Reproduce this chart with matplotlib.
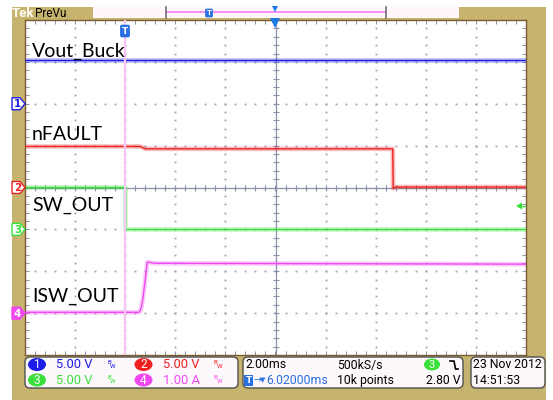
import matplotlib
matplotlib.use('Agg')
import matplotlib.pyplot as plt
from matplotlib.patches import Rectangle, FancyBboxPatch, Polygon, Ellipse
import numpy as np

W, H = 553, 400

# ---------------- data (time in ms, values in V / A) ----------------
time_vout = [-4.0, 16.0]
vout_buck = [5.2, 5.2]

time_nfault = [-4.0, 0.6, 0.8, 10.68, 10.70, 10.78, 16.0]
nfault = [4.9, 4.9, 4.62, 4.62, -0.1, 0.05, 0.05]

time_sw = [-4.0, 0.0, 0.0, 16.0]
sw_out = [5.05, 5.05, 0.0, 0.0]

time_isw = [-4.0, 0.56, 0.64, 0.72, 0.80, 0.88, 1.2, 16.0]
isw_out = [0.02, 0.02, 0.12, 0.40, 0.80, 1.22, 1.19, 1.17]

trace_labels = ['Vout_Buck', 'nFAULT', 'SW_OUT', 'ISW_OUT']
ch_scale = [5.0, 5.0, 5.0, 1.0]          # units per division
ch_offset = [6, 4, 3, 1]                 # ground position in divisions
ch_colors = ['#1C1CE8', '#EE2020', '#3AE03A', '#F048F0']

panel_scale_text = ['5.00 V', '5.00 V', '5.00 V', '1.00 A']
timebase = '2.00ms'
sample_rate = '500kS/s'
trig_pos = '6.02000ms'
record_len = '10k points'
trig_level = '2.80 V'
date_str = '23 Nov 2012'
time_str = '14:51:53'

tan = '#C6B46E'
grid_col = '#9CA0B4'
cross_col = '#8A90A8'
t0, t1 = -4.0, 16.0

fig = plt.figure(figsize=(W / 100, H / 100), dpi=100)
fig.patch.set_facecolor('white')

# background pixel axes
bg = fig.add_axes([0, 0, 1, 1], zorder=0)
bg.set_xlim(0, W); bg.set_ylim(H, 0); bg.axis('off')
bg.add_patch(Rectangle((12, 7), 534, 393, color=tan, lw=0))

# main scope axes
ax = fig.add_axes([25 / W, 1 - 355 / H, 501 / W, 335 / H], zorder=1)
ax.set_xlim(t0, t1)
ax.set_ylim(0, 8)
ax.set_facecolor('white')
for s in ax.spines.values():
    s.set_color('#7A5A32'); s.set_linewidth(1.0)
ax.set_xticks(np.arange(t0, t1 + 0.01, 0.4))
ax.set_yticks(np.arange(0, 8.01, 0.2))
ax.tick_params(direction='in', length=3, width=0.7, color=cross_col,
               top=True, right=True, labelbottom=False, labelleft=False)

tc = (t0 + t1) / 2
# graticule dots
for gx in np.arange(t0 + 2, t1, 2.0):
    if abs(gx - tc) < 1e-6:
        continue
    ys = np.arange(0.2, 8, 0.2)
    ax.plot(np.full_like(ys, gx), ys, ls='none', marker='s', ms=1.3, mew=0, color=grid_col, zorder=1)
for gy in range(1, 8):
    if gy == 4:
        continue
    xs = np.arange(t0 + 0.4, t1, 0.4)
    ax.plot(xs, np.full_like(xs, gy), ls='none', marker='s', ms=1.3, mew=0, color=grid_col, zorder=1)
# centre cross-hair
ax.axvline(tc, color=cross_col, lw=0.9, zorder=1)
ax.axhline(4, color=cross_col, lw=0.9, zorder=1)
ys = np.arange(0.2, 8, 0.2)
ax.plot(np.full_like(ys, tc), ys, ls='none', marker='_', ms=4, mew=0.8, color=cross_col, zorder=1)
xs = np.arange(t0 + 0.4, t1, 0.4)
ax.plot(xs, np.full_like(xs, 4), ls='none', marker='|', ms=4, mew=0.8, color=cross_col, zorder=1)

# traces
series = [(time_vout, vout_buck), (time_nfault, nfault), (time_sw, sw_out), (time_isw, isw_out)]
for i, (t, v) in enumerate(series):
    y = ch_offset[i] + np.asarray(v) / ch_scale[i]
    ax.plot(t, y, color=ch_colors[i], lw=3.4, alpha=0.28, zorder=2)
    ax.plot(t, y, color=ch_colors[i], lw=1.0, zorder=3)

# trigger position line
ax.axvline(0, color='#F6C6F4', lw=1.6, zorder=3.5)

# trace labels
label_y = [7.12, 5.13, 3.44, 1.27]
for lab, ly in zip(trace_labels, label_y):
    ax.text(t0 + 0.28, ly, lab, fontsize=14, family='Lato', color='black', va='baseline', ha='left', zorder=4)

# foreground pixel axes
fg = fig.add_axes([0, 0, 1, 1], zorder=2)
fg.set_xlim(0, W); fg.set_ylim(H, 0); fg.axis('off')
fg.patch.set_alpha(0)

# top bar
fg.text(12, 13.5, 'Tek', fontsize=9.5, fontweight='bold', color='#FFFDF2', va='center', ha='left', family='Roboto')
fg.text(35, 13.5, 'PreVu', fontsize=8.5, color='black', va='center', ha='left', family='Roboto')
fg.add_patch(Rectangle((93, 7), 366, 10.5, fc='#FFF7FC', ec='none'))
fg.plot([166, 386], [12.3, 12.3], color='#F080F0', lw=1.2)
fg.plot([166, 166], [7, 17.5], color='#707070', lw=1.2)
fg.plot([386, 386], [7, 17.5], color='#707070', lw=1.2)
fg.text(209, 13, 'T', fontsize=5, fontweight='bold', color='white', ha='center', va='center',
        bbox=dict(boxstyle='round,pad=0.2', fc='#2A70E0', ec='none'))
fg.plot([275], [8.5], marker='v', ms=5, color='#1E78E6', mew=0)

# trigger markers on the graticule
fg.text(125, 31, 'T', fontsize=6.5, fontweight='bold', color='white', ha='center', va='center',
        bbox=dict(boxstyle='round,pad=0.2', fc='#2A70E0', ec='none'))
fg.plot([275], [22.5], marker='v', ms=7, color='#1E78E6', mew=0)
fg.add_patch(Polygon([[516, 206], [522, 202.5], [522, 209.5]], closed=True, fc=ch_colors[2], ec='none'))
fg.plot([521, 525], [206, 206], color=ch_colors[2], lw=1)

# channel ground markers
for i in range(4):
    yy = 355 - ch_offset[i] * 335 / 8
    pts = [[12, yy - 6], [20, yy - 6], [25, yy], [20, yy + 6], [12, yy + 6]]
    filled = (i == 3)
    fg.add_patch(Polygon(pts, closed=True, fc=ch_colors[i] if filled else 'white',
                         ec=ch_colors[i], lw=1.0))
    fg.text(17.5, yy + 0.5, str(i + 1), fontsize=7.5, fontweight='bold',
            color='white' if filled else ch_colors[i], ha='center', va='center', family='DejaVu Sans')

# bottom panel
def box(x0, x1):
    fg.add_patch(FancyBboxPatch((x0, 357), x1 - x0, 31,
                                boxstyle='round,pad=0,rounding_size=5',
                                fc='#FDF8FC', ec='#505050', lw=1.0))

box(25, 238)
box(243, 463)
box(471, 545)

pf = ['Roboto', 'DejaVu Sans']
fs = 8.8
row_y = [364.5, 380]
chan_pos = [(37, 56, 107, row_y[0]), (143.5, 163, 214, row_y[0]),
            (37, 56, 107, row_y[1]), (143.5, 163, 214, row_y[1])]
for i in range(4):
    cx, tx, bx, ry = chan_pos[i]
    fg.add_patch(Ellipse((cx, ry), 18, 13, fc=ch_colors[i], ec='none'))
    fg.text(cx, ry + 0.5, str(i + 1), fontsize=8.5, color='white', ha='center', va='center', family=pf)
    fg.text(tx, ry + 0.5, panel_scale_text[i], fontsize=9.3, color=ch_colors[i], ha='left', va='center', family=pf)
    fg.text(bx, ry - 2.5, 'B', fontsize=4.5, color=ch_colors[i], ha='left', va='center', family=pf)
    fg.text(bx + 2.5, ry + 1.5, 'W', fontsize=4.5, color=ch_colors[i], ha='left', va='center', family=pf)

fg.text(246, row_y[0] + 0.5, timebase, fontsize=fs, color='black', ha='left', va='center', family=pf)
fg.text(337, row_y[0] + 0.5, sample_rate, fontsize=fs, color='black', ha='left', va='center', family=pf)
fg.add_patch(Ellipse((432, row_y[0]), 16, 12, fc=ch_colors[2], ec='none'))
fg.text(432, row_y[0] + 0.5, '3', fontsize=8, color='white', ha='center', va='center', family=pf)
fg.plot([450, 454, 455.5, 458], [361, 361, 369, 369], color='black', lw=1.2)

fg.text(248.5, row_y[1] + 0.5, 'T', fontsize=6.5, fontweight='bold', color='white', ha='center', va='center',
        bbox=dict(boxstyle='square,pad=0.15', fc='#2A70E0', ec='none'))
fg.text(253, row_y[1] + 0.5, '\u2192', fontsize=7, color='#2A70E0', ha='left', va='center', family=['DejaVu Sans'])
fg.text(260, row_y[1] + 0.5, '\u25BC', fontsize=5, color='#2A70E0', ha='left', va='center', family=['DejaVu Sans'])
fg.text(266.5, row_y[1] + 0.5, trig_pos, fontsize=fs, color='#2A70E0', ha='left', va='center', family=pf)
fg.text(337, row_y[1] + 0.5, record_len, fontsize=fs, color='black', ha='left', va='center', family=pf)
fg.text(460, row_y[1] + 0.5, trig_level, fontsize=fs, color='black', ha='right', va='center', family=pf)

fg.text(473, row_y[0] + 0.5, date_str, fontsize=fs, color='black', ha='left', va='center', family=pf)
fg.text(473, row_y[1] + 0.5, time_str, fontsize=fs, color='black', ha='left', va='center', family=pf)

fig.savefig('out.png', dpi=100, facecolor='white')
